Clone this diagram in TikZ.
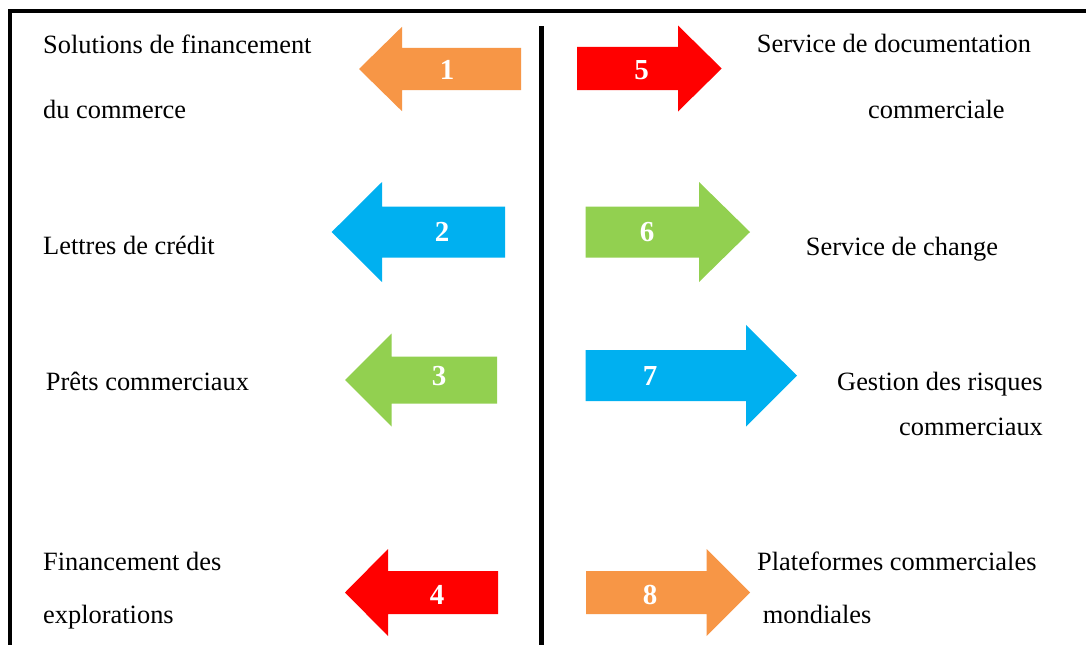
\documentclass[tikz,border=0pt]{standalone}
\usepackage{fontspec}
\setmainfont{Liberation Serif}
\definecolor{arrOrange}{HTML}{F79646}
\definecolor{arrRed}{HTML}{FF0000}
\definecolor{arrBlue}{HTML}{00B0F0}
\definecolor{arrGreen}{HTML}{92D050}
% block arrow: #1 colour, #2 tip x, #3 head base x, #4 tail x, #5 centre y, #6 half head height, #7 half body height
\newcommand\blockarrow[7]{%
  \fill[#1] (#2,#5) -- (#3,#5-#6) -- (#3,#5-#7) -- (#4,#5-#7) -- (#4,#5+#7)
    -- (#3,#5+#7) -- (#3,#5+#6) -- cycle;}
\begin{document}
\begin{tikzpicture}[x=1pt,y=-1pt,
  item/.style={anchor=base west, inner sep=0pt, font=\fontsize{26.4}{30}\selectfont},
  num/.style={text=white, inner sep=0pt, font=\bfseries\fontsize{29}{30}\selectfont},
  frameline/.style={line width=4pt},
  divider/.style={line width=5.5pt}]
\fill[white] (0,0) rectangle (1086,645);
\useasboundingbox (0,0) rectangle (1086,645);

% frame and central divider
\coordinate (tr) at (1086,11);
\coordinate (bl) at (10,645);
\draw[frameline] (8,11) -- (tr);
\draw[frameline] (10,9) -- (bl);
\coordinate (dtop) at (541.5,26);
\coordinate (dbot) at (541.5,645);
\draw[divider] (dtop) -- (dbot);

% left-pointing arrows
\blockarrow{arrOrange}{359}{402}{521}{69}{42.2}{21.2}
\blockarrow{arrBlue}{331.7}{382}{505}{232}{50}{25.5}
\blockarrow{arrGreen}{345}{391.7}{497}{380}{46.5}{23.5}
\blockarrow{arrRed}{345}{388}{498}{592.5}{43.5}{21.5}
% right-pointing arrows
\blockarrow{arrRed}{721.7}{678}{577}{68.5}{43}{21.7}
\blockarrow{arrGreen}{750}{699}{585.7}{232}{50}{25.5}
\blockarrow{arrBlue}{797}{746}{585.7}{375.7}{50.8}{25.5}
\blockarrow{arrOrange}{750}{706.7}{586}{592.5}{43.5}{21.5}

% numbers
\node[num] (n1) at (447,70) {1};
\node[num] (n2) at (442,232) {2};
\node[num] (n3) at (439,376) {3};
\node[num] (n4) at (437,595) {4};
\node[num] (n5) at (641.7,70) {5};
\node[num] (n6) at (647,232) {6};
\node[num] (n7) at (650,376) {7};
\node[num] (n8) at (650,595) {8};

% left texts
\node[item] (t1a) at (43,53) {Solutions de financement};
\node[item] (t1b) at (43,118) {du commerce};
\node[item] (t2) at (43,254) {Lettres de crédit};
\node[item] (t3) at (45.7,390) {Prêts commerciaux};
\node[item] (t4a) at (43,570.7) {Financement des};
\node[item] (t4b) at (43,623) {explorations};
% right texts
\node[item] (t5a) at (756.7,52) {Service de documentation};
\node[item] (t5b) at (868,118) {commerciale};
\node[item] (t6) at (805.7,255) {Service de change};
\node[item] (t7a) at (837,390) {Gestion des risques};
\node[item] (t7b) at (899,435) {commerciaux};
\node[item] (t8a) at (757,570) {Plateformes commerciales};
\node[item] (t8b) at (762.7,623) {mondiales};
\end{tikzpicture}
\end{document}
